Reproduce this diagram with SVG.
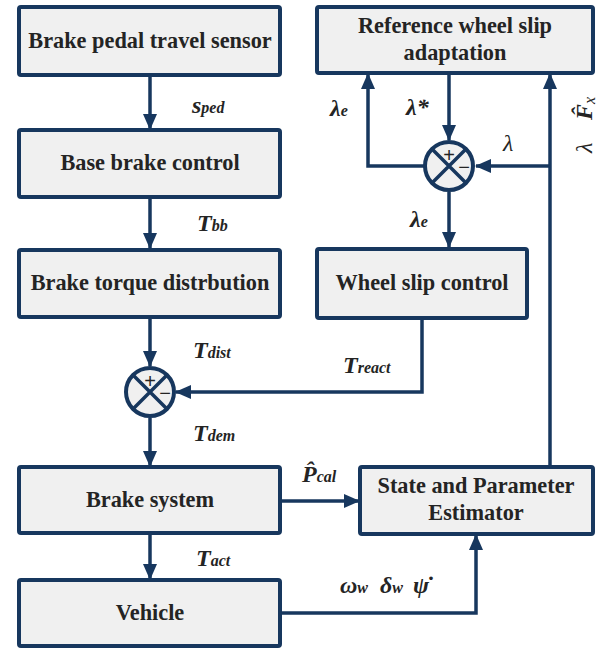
<svg xmlns="http://www.w3.org/2000/svg" width="615" height="649" viewBox="0 0 615 649">
<style>
.box{fill:#f0f0f0;stroke:#17375e;stroke-width:4}
.sum{fill:#f0f0f0;stroke:#17375e;stroke-width:4}
.x{stroke:#17375e;stroke-width:3.5}
.c{fill:none;stroke:#17375e;stroke-width:3.5}
.t{font-family:'Liberation Serif','Times New Roman',serif;font-weight:bold;font-size:22.3px;fill:#242424;text-anchor:middle}
.m{font-family:'Liberation Serif','Times New Roman',serif;font-weight:bold;font-style:italic;font-size:24px;fill:#242424}
.s{font-size:16px}
.n{font-weight:normal}
.sg{font-family:'Liberation Sans',sans-serif;font-size:20px;fill:#242424;text-anchor:middle}
</style>
<defs>
<marker id="ah" markerUnits="userSpaceOnUse" markerWidth="16" markerHeight="16" viewBox="0 0 16 16" refX="15" refY="8" orient="auto">
<path d="M0,1 L16,8 L0,15 Z" fill="#17375e"/>
</marker>
</defs>
<g id="connectors">
<path class="c" d="M150,75 V129" marker-end="url(#ah)"/>
<path class="c" d="M150,197 V248" marker-end="url(#ah)"/>
<path class="c" d="M150,317 V366" marker-end="url(#ah)"/>
<path class="c" d="M150,418 V466" marker-end="url(#ah)"/>
<path class="c" d="M150,533 V579" marker-end="url(#ah)"/>
<path class="c" d="M280,501 H359" marker-end="url(#ah)"/>
<path class="c" d="M280,613 H476 V535" marker-end="url(#ah)"/>
<path class="c" d="M550,467 V74" marker-end="url(#ah)"/>
<path class="c" d="M550,166 H476" marker-end="url(#ah)"/>
<path class="c" d="M449,73 V140" marker-end="url(#ah)"/>
<path class="c" d="M424,166 H368 V74" marker-end="url(#ah)"/>
<path class="c" d="M449,192 V247" marker-end="url(#ah)"/>
<path class="c" d="M422,318 V392 H176" marker-end="url(#ah)"/>
</g>
<g id="n1"><rect class="box" x="19" y="7" width="261" height="68" rx="2"/><text class="t" x="150" y="48">Brake pedal travel sensor</text></g>
<g id="n2"><rect class="box" x="19" y="130" width="261" height="67" rx="2"/><text class="t" x="150" y="170">Base brake control</text></g>
<g id="n3"><rect class="box" x="19" y="250" width="261" height="67" rx="2"/><text class="t" x="150" y="290">Brake torque distrbution</text></g>
<g id="n4"><rect class="box" x="19" y="467" width="261" height="66" rx="2"/><text class="t" x="150" y="507">Brake system</text></g>
<g id="n5"><rect class="box" x="19" y="580" width="261" height="66" rx="2"/><text class="t" x="150" y="620">Vehicle</text></g>
<g id="n6"><rect class="box" x="317" y="7" width="276" height="66" rx="2"/><text class="t" x="455" y="33">Reference wheel slip</text><text class="t" x="455" y="60">adaptation</text></g>
<g id="n7"><rect class="box" x="317" y="249" width="210" height="69" rx="2"/><text class="t" x="422" y="290">Wheel slip control</text></g>
<g id="n8"><rect class="box" x="360" y="467" width="233" height="67" rx="2"/><text class="t" x="476" y="493">State and Parameter</text><text class="t" x="476" y="520">Estimator</text></g>
<g id="sum1"><circle class="sum" cx="449" cy="166" r="24"/><path class="x" d="M432,149 L466,183 M466,149 L432,183"/><text class="sg" x="449" y="162">+</text><text class="sg" x="464" y="174">−</text></g>
<g id="sum2"><circle class="sum" cx="150" cy="392" r="24"/><path class="x" d="M133,375 L167,409 M167,375 L133,409"/><text class="sg" x="150" y="388">+</text><text class="sg" x="165" y="400">−</text></g>
<g id="labels">
<text class="m" x="192" y="113">s<tspan class="s">ped</tspan></text>
<text class="m" x="197" y="231">T<tspan class="s">bb</tspan></text>
<text class="m" x="193" y="358">T<tspan class="s">dist</tspan></text>
<text class="m" x="343" y="373">T<tspan class="s">react</tspan></text>
<text class="m" x="193" y="441">T<tspan class="s">dem</tspan></text>
<text class="m" x="196" y="566">T<tspan class="s">act</tspan></text>
<text class="m" x="302" y="482">P̂<tspan class="s">cal</tspan></text>
<text class="m" x="340" y="593">ω<tspan class="s">w</tspan><tspan x="380">δ</tspan><tspan class="s">w</tspan><tspan x="413">ψ̇</tspan></text>
<text class="m" x="330" y="116">λ<tspan class="s">e</tspan></text>
<text class="m" x="406" y="115">λ*</text>
<text class="m n" x="503" y="151">λ</text>
<text class="m" x="410" y="227">λ<tspan class="s">e</tspan></text>
<text class="m" transform="translate(592,153) rotate(-90)"><tspan class="n">λ</tspan><tspan x="33">F̂</tspan><tspan class="s n" dy="3">x</tspan></text>
</g>
</svg>
